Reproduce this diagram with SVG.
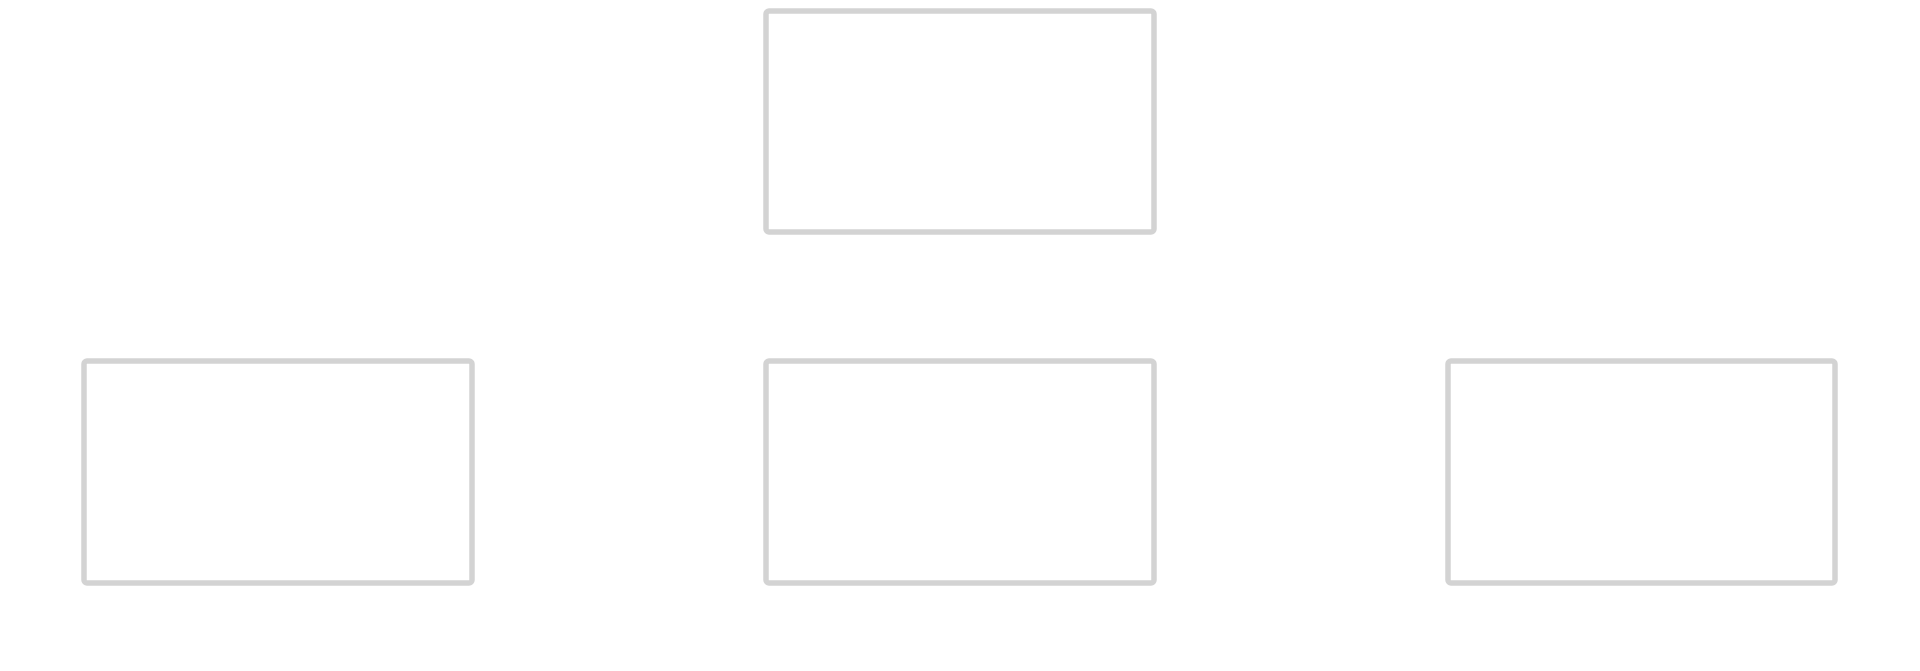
<svg xmlns="http://www.w3.org/2000/svg" width="1920" height="671" viewBox="0 0 1920 671"><style>.n{fill:#fff;stroke:#d3d3d3;stroke-width:5.5}</style><rect width="1920" height="671" fill="#fff"/><g id="connectors"/><g id="n1"><rect class="n" x="766" y="11" width="388" height="221" rx="3"/></g><g id="n2"><rect class="n" x="84" y="361" width="388" height="222" rx="3"/></g><g id="n3"><rect class="n" x="766" y="361" width="388" height="222" rx="3"/></g><g id="n4"><rect class="n" x="1448" y="361" width="387" height="222" rx="3"/></g></svg>
